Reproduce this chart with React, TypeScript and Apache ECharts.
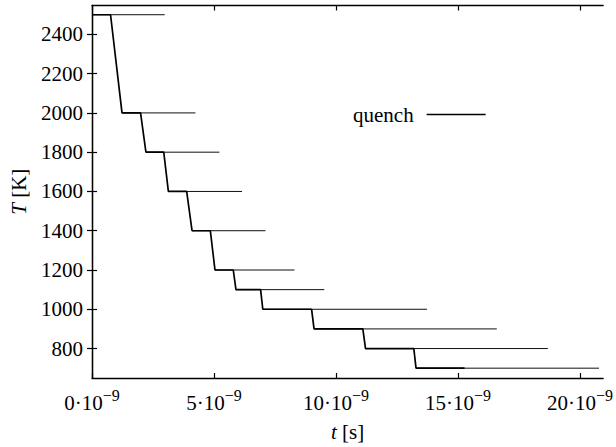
import React, { useEffect, useRef } from "react";
import * as echarts from "echarts";

// time in units of 1e-9 s, temperature in K
const quenchTime = [0, 0.76, 1.23, 1.99, 2.21, 2.94, 3.13, 3.88, 4.1, 4.85, 5.04, 5.79, 5.9, 6.91, 7.0, 9.0, 9.1, 11.1, 11.21, 13.19, 13.28, 15.27];
const quenchTemp = [2500, 2500, 2000, 2000, 1800, 1800, 1600, 1600, 1400, 1400, 1200, 1200, 1100, 1100, 1000, 1000, 900, 900, 800, 800, 700, 700];

const plateauTemp = [2500, 2000, 1800, 1600, 1400, 1200, 1100, 1000, 900, 800, 700];
const plateauStart = [0, 1.23, 2.21, 3.13, 4.1, 5.04, 5.9, 7.0, 9.1, 11.21, 13.28];
const plateauEnd = [2.98, 4.24, 5.22, 6.15, 7.11, 8.3, 9.52, 13.73, 16.59, 18.68, 20.78];

const xTicks = [0, 5, 10, 15, 20];
const yTicks = [800, 1000, 1200, 1400, 1600, 1800, 2000, 2200, 2400];

const FONT = "Liberation Serif";

export default function App() {
  const ref = useRef<HTMLDivElement>(null);
  useEffect(() => {
    if (!ref.current) return;
    const chart = echarts.init(ref.current, undefined, { renderer: "svg" });
    const axisLine = { show: true, lineStyle: { color: "#000", width: 1.3 } };
    const tick = (vals: number[]) => ({
      show: true,
      inside: true,
      length: 5,
      customValues: vals,
      lineStyle: { color: "#000", width: 1.2 },
    });
    const thinSeries = plateauTemp.map((T, i) => ({
      type: "line",
      name: "plateau" + i,
      data: [
        [plateauStart[i], T],
        [plateauEnd[i], T],
      ],
      symbol: "none",
      silent: true,
      lineStyle: { color: "#111", width: 1 },
      z: 2,
    }));
    chart.setOption({
      animation: false,
      backgroundColor: "#fff",
      textStyle: { fontFamily: FONT },
      grid: { left: 92, right: 11, top: 5.5, bottom: 67, containLabel: false },
      legend: {
        data: [{ name: "quench", icon: "rect" }],
        left: 348,
        top: 99,
        align: "right",
        itemWidth: 59,
        itemHeight: 1.6,
        textStyle: { fontFamily: FONT, fontSize: 21, color: "#000", padding: [0, 8, 0, 0] },
      },
      xAxis: [
        {
          type: "value",
          position: "bottom",
          min: 0,
          max: 20.95,
          axisLine,
          axisTick: tick(xTicks),
          splitLine: { show: false },
          axisLabel: {
            customValues: xTicks,
            margin: 9,
            fontFamily: FONT,
            formatter: (v: number) => `{m|${v}·10}{s|−9}`,
            rich: {
              m: { fontFamily: FONT, fontSize: 21, color: "#000", lineHeight: 26, verticalAlign: "bottom" },
              s: { fontFamily: FONT, fontSize: 16, color: "#000", lineHeight: 26, verticalAlign: "top" },
            },
          },
          name: "{i|t} [s]",
          nameLocation: "middle",
          nameGap: 43,
          nameTextStyle: {
            fontFamily: FONT,
            fontSize: 21,
            color: "#000",
            rich: { i: { fontFamily: FONT, fontSize: 21, fontStyle: "italic", color: "#000" } },
          },
        },
        {
          type: "value",
          position: "top",
          min: 0,
          max: 20.95,
          axisLine,
          axisTick: tick(xTicks),
          axisLabel: { show: false },
          splitLine: { show: false },
        },
      ],
      yAxis: [
        {
          type: "value",
          position: "left",
          min: 650,
          max: 2547,
          axisLine,
          axisTick: tick(yTicks),
          splitLine: { show: false },
          axisLabel: {
            customValues: yTicks,
            margin: 9,
            fontFamily: FONT,
            fontSize: 21,
            color: "#000",
            formatter: (v: number) => String(v),
          },
          name: "{i|T} [K]",
          nameLocation: "middle",
          nameGap: 63,
          nameTextStyle: {
            fontFamily: FONT,
            fontSize: 21,
            color: "#000",
            rich: { i: { fontFamily: FONT, fontSize: 21, fontStyle: "italic", color: "#000" } },
          },
        },
        {
          type: "value",
          position: "right",
          min: 650,
          max: 2547,
          axisLine,
          axisTick: tick(yTicks),
          axisLabel: { show: false },
          splitLine: { show: false },
        },
      ],
      series: [
        ...thinSeries,
        {
          type: "line",
          name: "quench",
          data: quenchTime.map((t, i) => [t, quenchTemp[i]]),
          symbol: "none",
          color: "#000",
          lineStyle: { color: "#000", width: 1.7 },
          z: 3,
        },
      ],
    });
    return () => chart.dispose();
  }, []);
  return (
    <div
      ref={ref}
      style={{ position: "fixed", left: 0, top: 0, width: 616, height: 447, background: "#fff" }}
    />
  );
}
